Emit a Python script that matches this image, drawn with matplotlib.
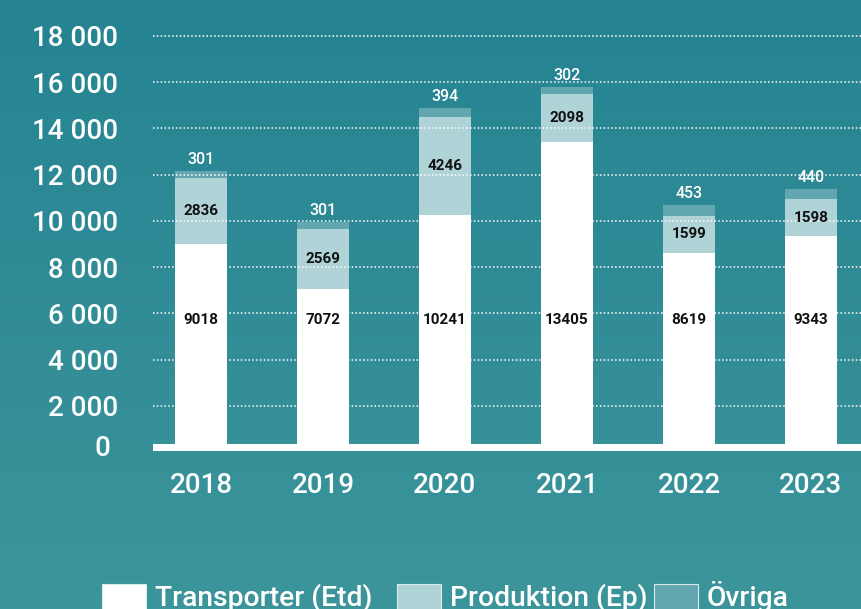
import numpy as np
import matplotlib
matplotlib.use("Agg")
import matplotlib.pyplot as plt
from matplotlib.patches import Rectangle

years = ["2018", "2019", "2020", "2021", "2022", "2023"]
transporter = [9018, 7072, 10241, 13405, 8619, 9343]
produktion = [2836, 2569, 4246, 2098, 1599, 1598]
ovriga = [301, 301, 394, 302, 453, 440]
yticks = [2000, 4000, 6000, 8000, 10000, 12000, 14000, 16000, 18000]
ytick_labels = ["2 000", "4 000", "6 000", "8 000", "10 000", "12 000", "14 000", "16 000", "18 000"]
zero_label = "0"
legend_labels = ["Transporter (Etd)", "Produktion (Ep)", "Övriga"]

W, H = 861, 609
DPI = 100
FONT = "Roboto"
c_trans = "#ffffff"
c_prod = "#afd3d7"
c_ovr = "#62a7b0"

fig = plt.figure(figsize=(W / DPI, H / DPI), dpi=DPI)

# background gradient
bg = fig.add_axes([0, 0, 1, 1], zorder=-10)
top = np.array([37, 131, 146]) / 255
bot = np.array([60, 149, 155]) / 255
t = np.linspace(0, 1, 256)[:, None]
grad = top[None, None, :] * (1 - t[..., None]) + bot[None, None, :] * t[..., None]
grad = np.repeat(grad, 2, axis=1)
bg.imshow(grad, aspect="auto", extent=[0, 1, 0, 1])
bg.set_axis_off()

def fx(px):
    return px / W

def fy(py):
    return 1 - py / H

# axes geometry in pixels
ax_left, ax_right = 153, 861
ax_top, ax_bottom = 0, 451
y0_px = 452
px_per_unit = (452 - 36) / 18000.0
ymax = (y0_px - ax_top) / px_per_unit
ymin = -(ax_bottom - y0_px) / px_per_unit
x0_px, xstep = 201, 122
xmin = (ax_left - x0_px) / xstep
xmax = (ax_right - x0_px) / xstep

ax = fig.add_axes([fx(ax_left), fy(ax_bottom), fx(ax_right - ax_left), (ax_bottom - ax_top) / H])
ax.set_facecolor("none")
ax.set_xlim(xmin, xmax)
ax.set_ylim(ymin, ymax)
for s in ax.spines.values():
    s.set_visible(False)

x = np.arange(len(years))
bw = 52 / xstep
trans = np.array(transporter)
prod = np.array(produktion)
ovr = np.array(ovriga)
ax.bar(x, trans, width=bw, color=c_trans, zorder=2)
ax.bar(x, prod, width=bw, bottom=trans, color=c_prod, zorder=2)
ax.bar(x, ovr, width=bw, bottom=trans + prod, color=c_ovr, zorder=2)

# grid
for yv in yticks:
    ax.axhline(yv, color="white", lw=1.1, ls=(0, (1, 1.5)), zorder=3)

ax.set_yticks(yticks)
ax.set_yticklabels(ytick_labels, fontsize=20, color="white", fontfamily=FONT, fontweight="medium")
ax.tick_params(axis="y", length=0, pad=25)
ax.set_xticks(x)
ax.set_xticklabels(years, fontsize=20, color="white", fontfamily=FONT, fontweight="medium")
ax.tick_params(axis="x", length=0, pad=15)

# zero label
fig.text(fx(110), fy(448), zero_label, ha="right", va="center", fontsize=20,
         color="white", fontfamily=FONT, fontweight="medium")

# value labels
for i in range(len(years)):
    ax.text(x[i], 5730, f"{transporter[i]}", ha="center", va="center",
            fontsize=11, fontweight="bold", color="#111111", fontfamily=FONT, zorder=4)
    ax.text(x[i], trans[i] + prod[i] / 2, f"{produktion[i]}", ha="center", va="center",
            fontsize=11, fontweight="bold", color="#111111", fontfamily=FONT, zorder=4)
    ax.annotate(f"{ovriga[i]}", (x[i], trans[i] + prod[i] + ovr[i]), xytext=(0, 3),
                textcoords="offset points", ha="center", va="bottom",
                fontsize=11.5, fontweight="medium", color="white", fontfamily=FONT, zorder=4)

# baseline
fig.patches.append(Rectangle((fx(153), fy(451)), fx(861 - 153), 7 / H, transform=fig.transFigure,
                             facecolor="white", edgecolor="none", zorder=5))

# legend (manual)
leg_items = [(102, c_trans), (397, c_prod), (654, c_ovr)]
for (px, col), lab in zip(leg_items, legend_labels):
    fig.patches.append(Rectangle((fx(px), fy(612)), fx(44), 28 / H, transform=fig.transFigure,
                                 facecolor=col, edgecolor="#d8ecee", lw=0.8, zorder=5))
    fig.text(fx(px + 53), fy(606), lab, ha="left", va="baseline", fontsize=20.3,
             color="white", fontfamily=FONT, fontweight="medium")

fig.savefig("out.png", dpi=DPI)
